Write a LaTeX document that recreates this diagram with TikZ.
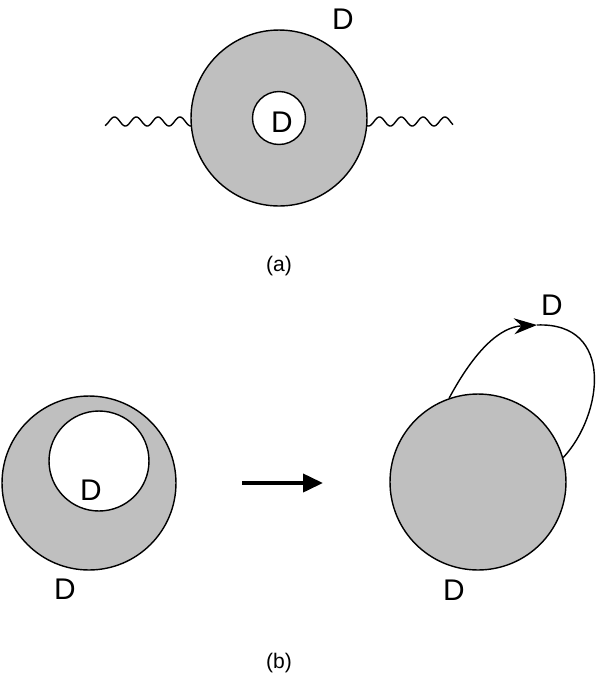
\documentclass[tikz,border=0pt]{standalone}
\usepackage{fontspec}
\setmainfont{Liberation Sans}
\usepackage{tikz}
\usetikzlibrary{arrows.meta}
\usetikzlibrary{positioning}
\definecolor{mgray}{rgb}{0.75, 0.75, 0.75}
\tikzset{disk/.style = {draw, circle, fill = mgray, inner sep = 0, line width = 0.8pt}}
\tikzset{hole/.style = {draw, circle, fill = white, inner sep = 0, line width = 0.8pt}}
\tikzset{dlabel/.style = {font = \fontsize{17}{20}\selectfont, inner sep = 0}}
\tikzset{caption/.style = {font = \fontsize{12}{14}\selectfont, inner sep = 0}}
\tikzset{wave/.style = {line width = 0.8pt, line join = round}}

\begin{document}
\begin{tikzpicture}[x=0.02cm, y=0.02cm]
      \useasboundingbox (0, 0) rectangle (599, -681);

      \draw [wave, domain=105:191.1, samples=120] plot (\x, {-121.5 + 4.5*sin(16.5*(\x-109))});
      \draw [wave, domain=366.9:453, samples=120] plot (\x, {-121.5 + 4.5*sin(16.5*(\x-374))});
      \node [disk, minimum size = 3.52cm] (topdisk) at (279, -118) {};
      \node [hole, minimum size = 1.06cm] (tophole) at (279, -118) {};
      \node [dlabel] (topin) at (282, -122) {D};
      \node [dlabel] (topout) at (343, -19) {D};
      \node [caption] (capa) at (279, -266) {(a)};

      \node [disk, minimum size = 3.48cm] (leftdisk) at (89, -483) {};
      \node [hole, minimum size = 2.0cm] (lefthole) at (99, -461) {};
      \node [dlabel] (leftin) at (91, -490) {D};
      \node [dlabel] (leftout) at (65, -589) {D};

      \coordinate (arrowstart) at (242, -483);
      \coordinate (arrowend) at (323, -483);
      \draw [line width = 2.2pt, -{Triangle[length = 0.4cm, width = 0.36cm]}] (arrowstart) -- (arrowend);

      \node [disk, minimum size = 3.52cm] (rightdisk) at (478, -482) {};
      \node [dlabel] (rightout) at (454, -590) {D};
      \node [dlabel] (looplabel) at (552, -305) {D};
      \coordinate (looptop) at (537, -325);
      \draw [line width = 0.8pt, -{Stealth[length = 0.46cm, width = 0.32cm]}]
        (rightdisk.109) .. controls (475, -350) and (500, -327) .. (looptop);
      \draw [line width = 0.8pt]
        (looptop) .. controls (615, -322) and (603, -415) .. (rightdisk.16);

      \node [caption] (capb) at (279, -663) {(b)};
    \end{tikzpicture}
\end{document}
